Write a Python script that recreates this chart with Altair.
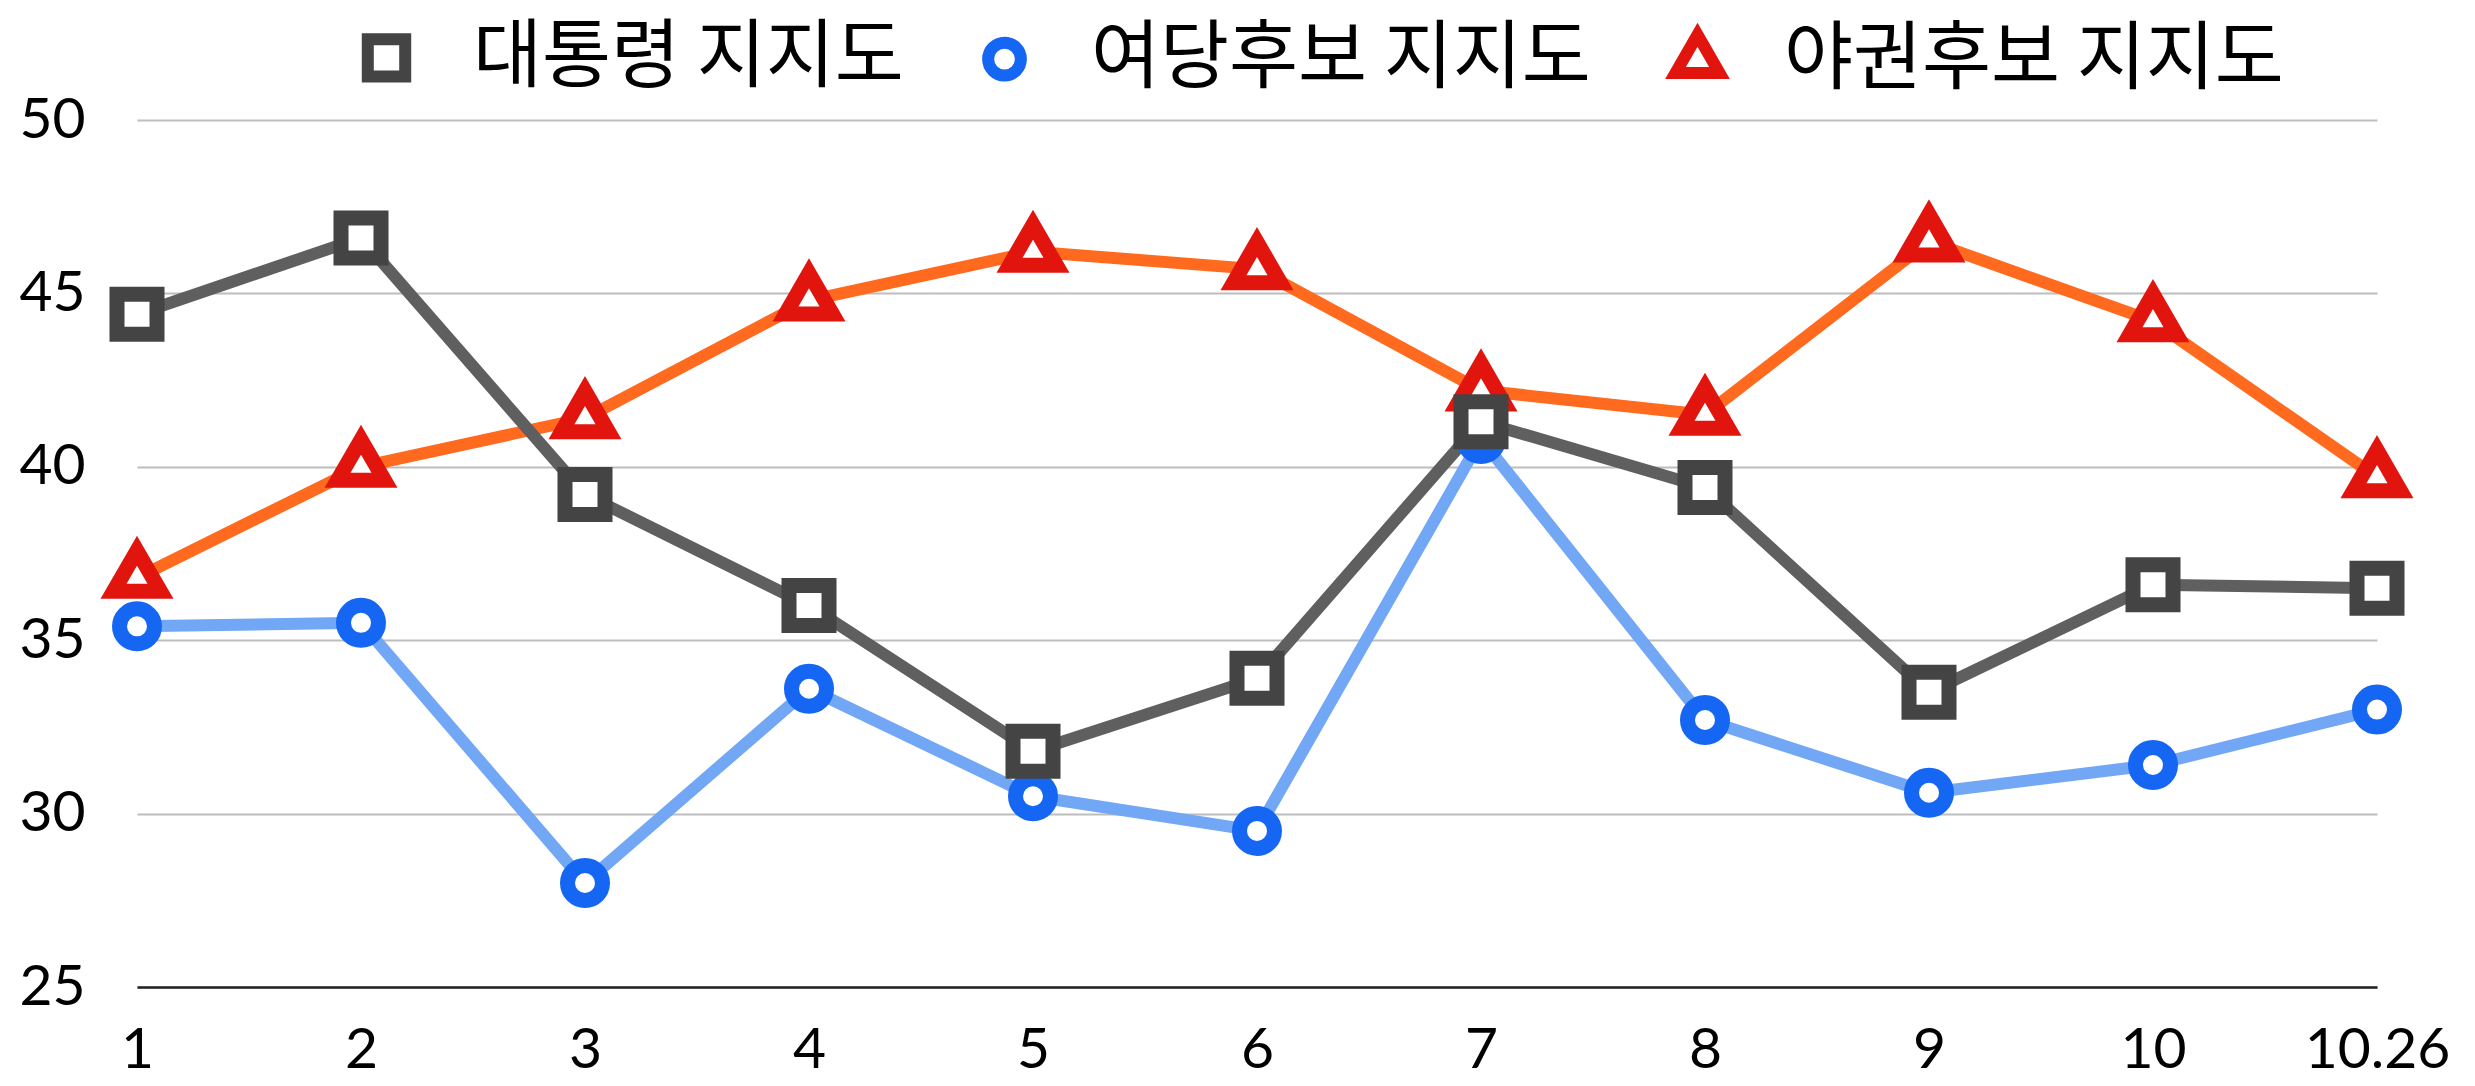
import altair as alt
import pandas as pd

# ---- data ----
x_labels = ["1", "2", "3", "4", "5", "6", "7", "8", "9", "10", "10.26"]
series_names = ["대통령 지지도", "여당후보 지지도", "야권후보 지지도"]
president = [44.4, 46.6, 39.2, 36.0, 31.8, 33.9, 41.3, 39.4, 33.5, 36.6, 36.5]
ruling = [35.4, 35.5, 28.0, 33.6, 30.5, 29.5, 40.8, 32.7, 30.6, 31.4, 33.0]
opposition = [36.8, 40.0, 41.4, 44.8, 46.2, 45.7, 42.2, 41.5, 46.5, 44.2, 39.7]
y_ticks = [25, 30, 35, 40, 45, 50]

# ---- styles ----
line_colors = ["#5f5f5f", "#72a7f5", "#ff6a1f"]
marker_colors = ["#444444", "#1566f3", "#e2140e"]
# unit-box symbol paths (square, circle, centroid-centred triangle), relative sizes
marker_shapes = [
    "M-1,-1H1V1H-1Z",
    "M-0.875,0A0.875,0.875 0 1,0 0.875,0A0.875,0.875 0 1,0 -0.875,0Z",
    "M0,-1.357L1.175,0.678L-1.175,0.678Z",
]

rows = []
for name, vals in [(series_names[2], opposition),
                   (series_names[1], ruling),
                   (series_names[0], president)]:
    for lab, v in zip(x_labels, vals):
        rows.append({"x": lab, "value": v, "series": name, "series_line": name})
df = pd.DataFrame(rows)

x_enc = alt.X(
    "x:N", sort=x_labels,
    scale=alt.Scale(type="point", padding=0),
    axis=alt.Axis(title=None, labelAngle=0, ticks=False, grid=False,
                  domain=True, domainColor="#222222", domainWidth=2.5,
                  labelFont="Lato", labelFontSize=57, labelColor="#000000",
                  labelPadding=35, labelFlush=False, labelOverlap=False),
)
y_enc = alt.Y(
    "value:Q",
    scale=alt.Scale(domain=[25, 50], nice=False, zero=False),
    axis=alt.Axis(values=y_ticks, title=None, domain=False, ticks=False,
                  grid=True, gridColor="#bdbdbd", gridWidth=2,
                  labelFont="Lato", labelFontSize=57, labelColor="#000000",
                  labelPadding=52),
)

legend = alt.Legend(
    title=None, orient="none", legendX=212, legendY=-100,
    direction="horizontal", labelFont="Noto Sans CJK KR", labelFontSize=75,
    labelColor="#000000", labelLimit=1000, labelOffset=49, columnPadding=60,
    symbolSize=1400, symbolStrokeWidth=12, symbolFillColor="white", padding=0,
)

lines = alt.Chart(df).mark_line(strokeWidth=12, strokeJoin="round").encode(
    x=x_enc, y=y_enc,
    stroke=alt.Stroke("series_line:N", sort=series_names,
                      scale=alt.Scale(range=line_colors), legend=None),
)

points = alt.Chart(df).mark_point(filled=False, fill="white", fillOpacity=1,
                                  opacity=1, strokeWidth=15, size=1600).encode(
    x=x_enc, y=y_enc,
    color=alt.Color("series:N", scale=alt.Scale(domain=series_names, range=marker_colors), legend=legend),
    shape=alt.Shape("series:N", scale=alt.Scale(domain=series_names, range=marker_shapes), legend=legend),
)

chart = alt.layer(lines, points).properties(
    width=2240, height=867,
    autosize=alt.AutoSizeParams(type="none"),
    padding={"left": 129, "top": 112, "right": 85, "bottom": 91},
    background="white",
).configure_view(stroke=None)

chart.save("out.html", embed_options={"renderer": "svg", "actions": False})
